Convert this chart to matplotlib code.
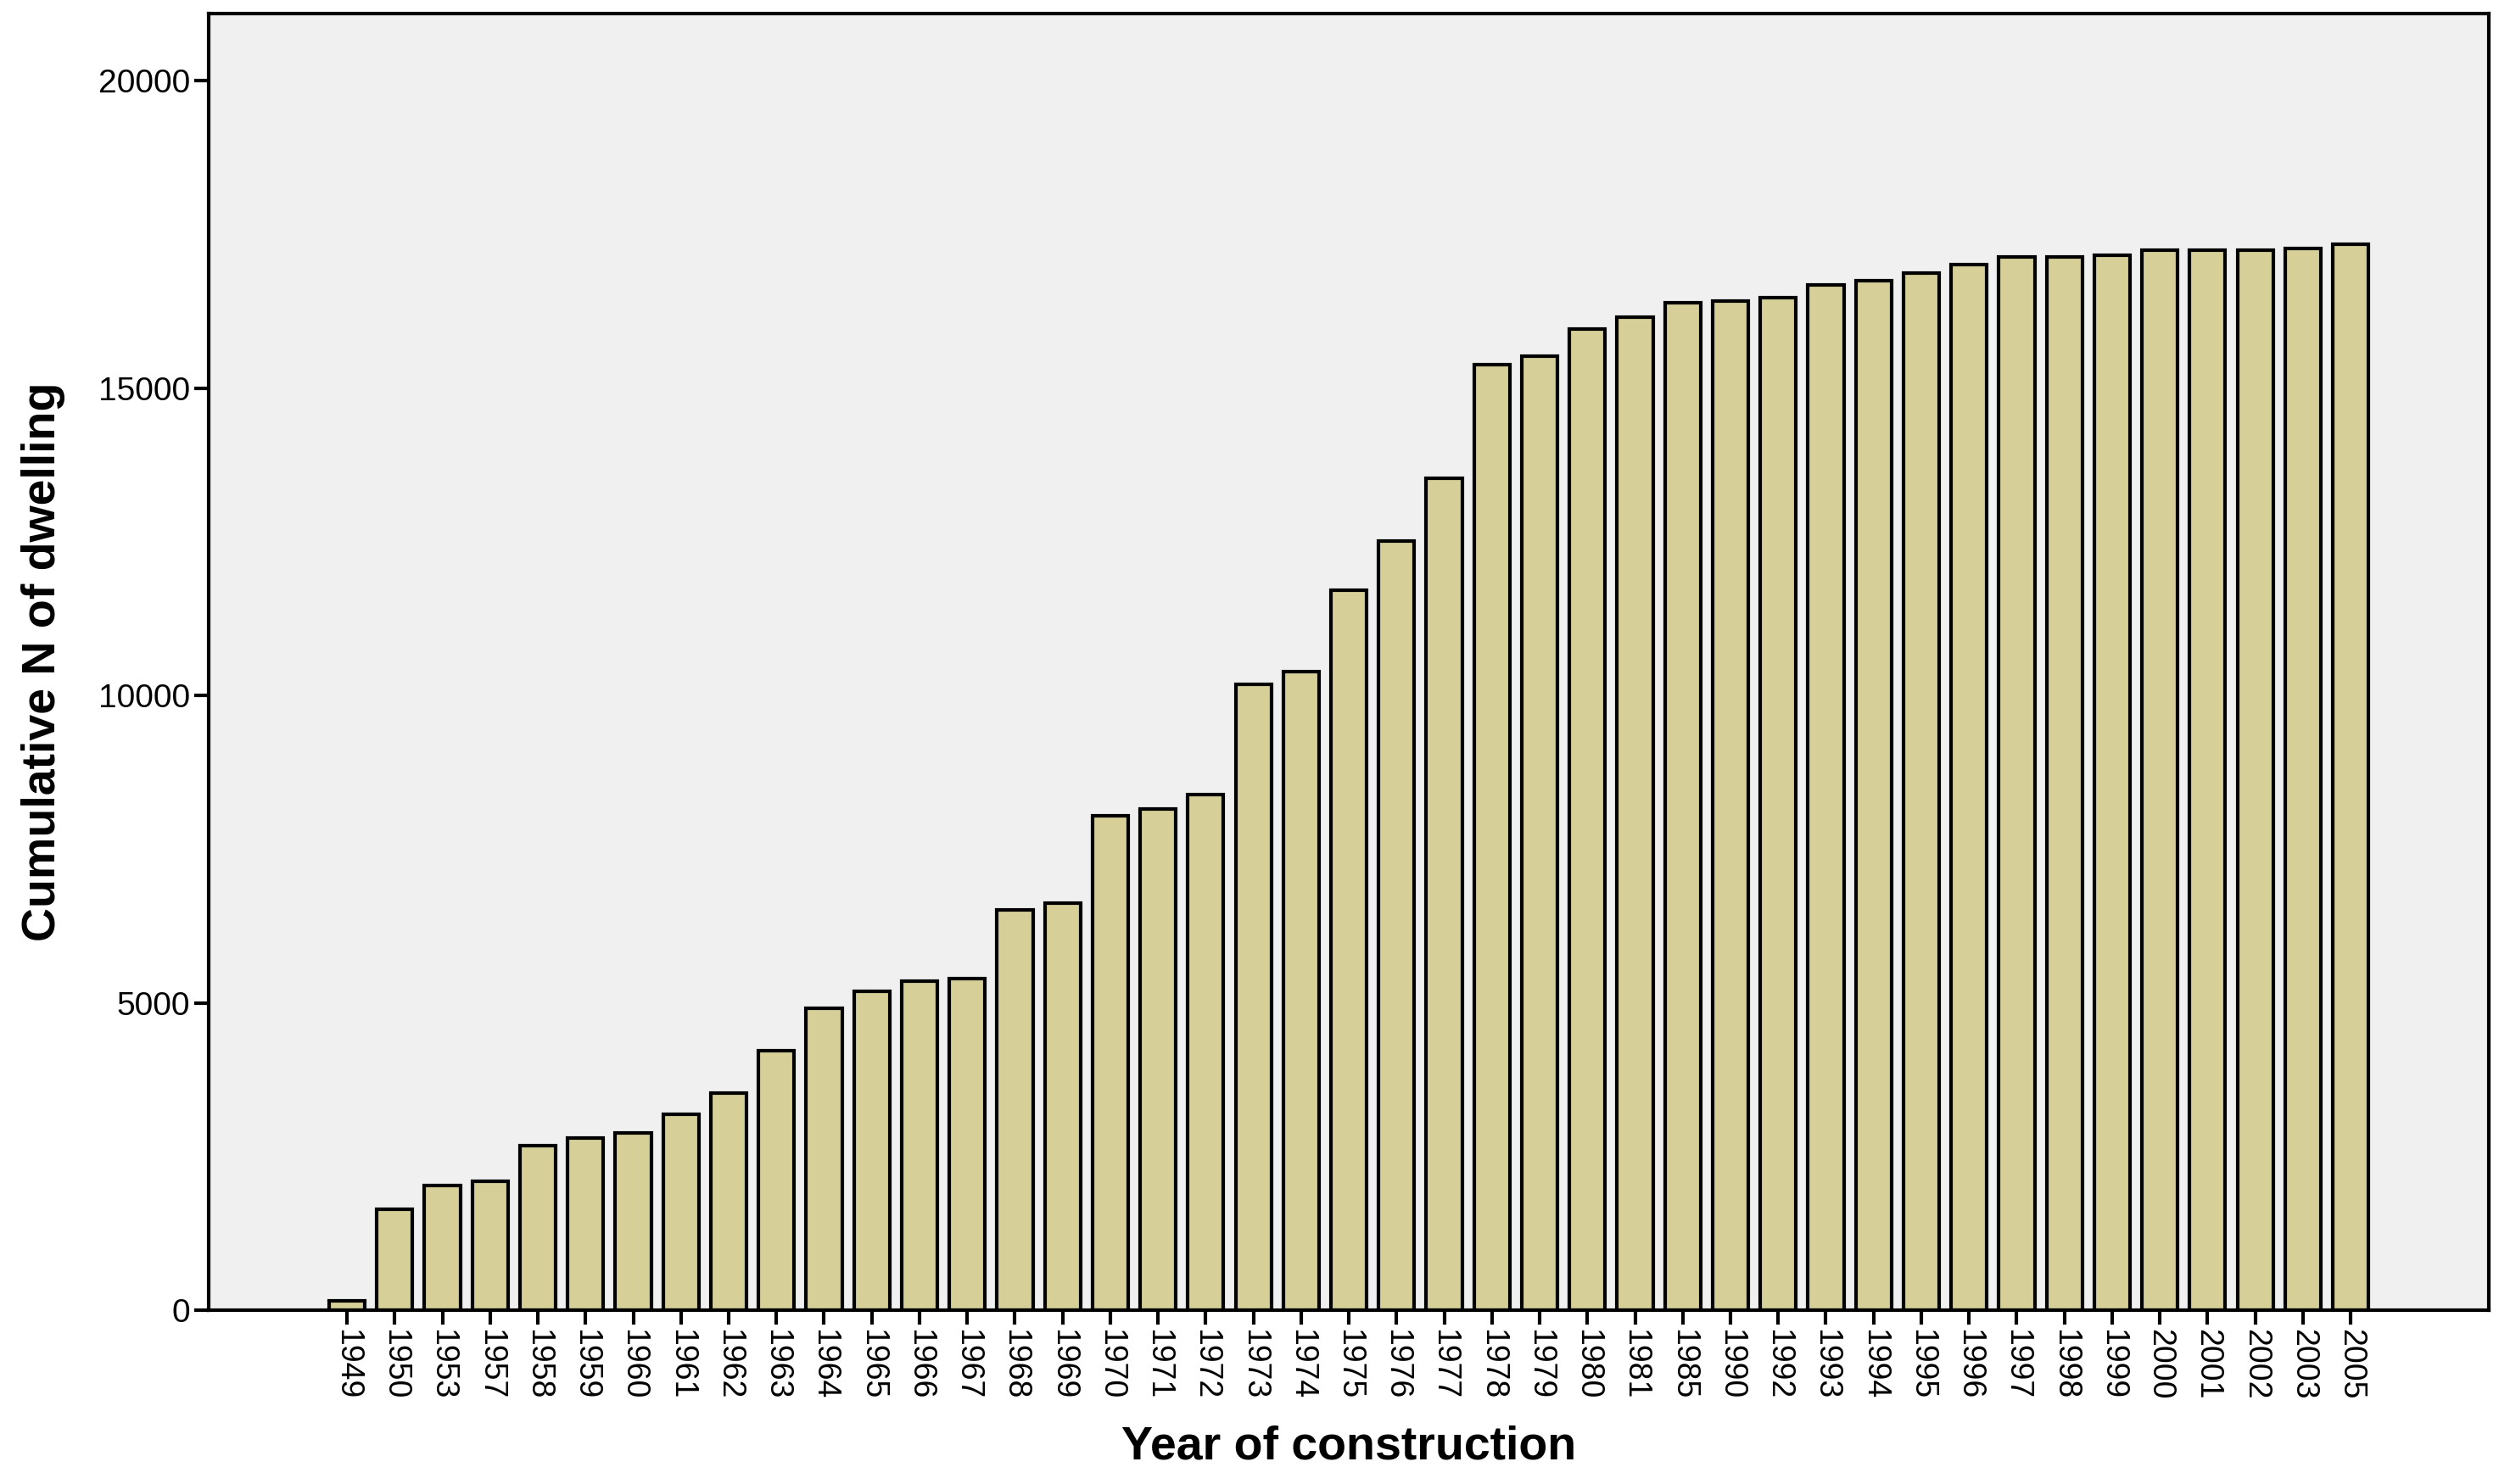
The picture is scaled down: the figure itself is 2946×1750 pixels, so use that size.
import matplotlib
matplotlib.use("Agg")
import matplotlib.pyplot as plt
import numpy as np

years = ["1949","1950","1953","1957","1958","1959","1960","1961","1962","1963","1964","1965","1966","1967","1968","1969","1970","1971","1972","1973","1974","1975","1976","1977","1978","1979","1980","1981","1985","1990","1992","1993","1994","1995","1996","1997","1998","1999","2000","2001","2002","2003","2005"]
cumulative = [160,1640,2030,2100,2680,2800,2880,3190,3530,4230,4910,5190,5350,5400,6520,6620,8050,8160,8390,10180,10390,11710,12520,13530,15380,15530,15970,16160,16390,16420,16470,16680,16750,16880,17010,17140,17140,17170,17250,17250,17250,17270,17350]

plt.rcParams['font.family'] = ['Liberation Sans', 'DejaVu Sans']
fig = plt.figure(figsize=(29.46, 17.5), dpi=100)
ax = fig.add_axes([0.0835, 0.117, 0.9125, 0.874])
ax.set_facecolor('#f0f0f0')
x = np.arange(len(years))
ax.bar(x, cumulative, width=0.75, color='#d6cf98', edgecolor='black', linewidth=3)
ax.set_xlim(-2.9, len(years) - 1 + 2.9)
ax.set_ylim(0, 21100)
ax.set_xticks(x)
ax.set_xticklabels(years, rotation=270, fontsize=27)
ax.set_yticks([0, 5000, 10000, 15000, 20000])
ax.tick_params(axis='y', labelsize=28, width=3, length=12)
ax.tick_params(axis='x', width=3, length=12)
for s in ax.spines.values():
    s.set_linewidth(3)
ax.set_xlabel('Year of construction', fontsize=40, fontweight='bold', labelpad=22)
ax.set_ylabel('Cumulative N of dwelling', fontsize=40, fontweight='bold', labelpad=28)
fig.savefig('out.png', dpi=100, facecolor='white')
